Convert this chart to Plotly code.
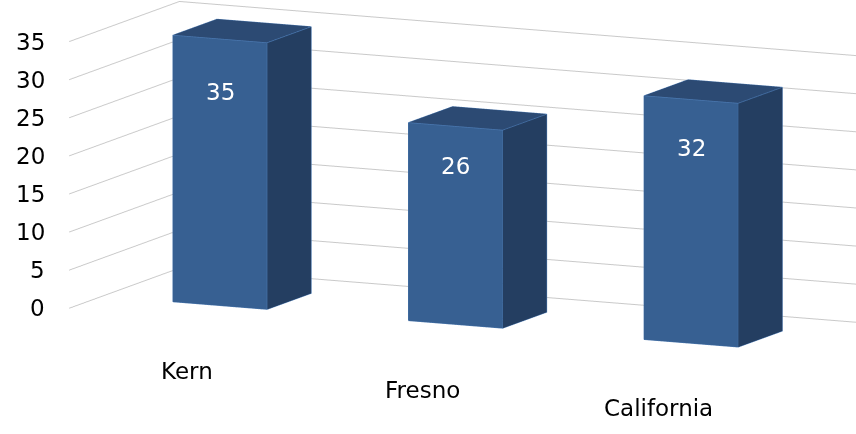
import numpy as np
import plotly.graph_objects as go

# ---- data ----
categories = ["Kern", "Fresno", "California"]
values = [35, 26, 32]
tick_values = [0, 5, 10, 15, 20, 25, 30, 35]

# ---- style ----
FRONT = "#376092"
SIDE = "#243e61"
TOP = "#2c4a73"
EDGE = "#4a78b0"
GRID = "#c9c9c9"
FONT = "DejaVu Sans"
FS = 23

BAR_HALF = 0.2          # half bar width in category units
DEPTH_FRONT, DEPTH_BACK = 0.3, 0.7

fig = go.Figure()

faces = [(0, 1, 5), (0, 5, 4),   # front
         (1, 2, 6), (1, 6, 5),   # right
         (4, 5, 6), (4, 6, 7),   # top
         (0, 3, 7), (0, 7, 4),   # left
         (3, 2, 6), (3, 6, 7),   # back
         (0, 1, 2), (0, 2, 3)]   # bottom
face_cols = [FRONT, FRONT, SIDE, SIDE, TOP, TOP,
             FRONT, FRONT, FRONT, FRONT, FRONT, FRONT]
# visible edges: vertex index paths (None = break)
edge_path = [0, 1, 5, 4, 0, None, 4, 7, 6, 5, None, 1, 2, 6]

for idx, (cat, val) in enumerate(zip(categories, values)):
    xa, xb = idx - BAR_HALF, idx + BAR_HALF
    vx = [xa, xb, xb, xa, xa, xb, xb, xa]
    vy = [DEPTH_FRONT, DEPTH_FRONT, DEPTH_BACK, DEPTH_BACK] * 2
    vz = [0, 0, 0, 0, val, val, val, val]
    fig.add_trace(go.Mesh3d(
        x=vx, y=vy, z=vz,
        i=[f[0] for f in faces], j=[f[1] for f in faces], k=[f[2] for f in faces],
        facecolor=face_cols, flatshading=True,
        lighting=dict(ambient=1, diffuse=0, specular=0, roughness=1, fresnel=0),
        hoverinfo="skip", showscale=False, name=cat))
    fig.add_trace(go.Scatter3d(
        x=[vx[p] if p is not None else None for p in edge_path],
        y=[vy[p] if p is not None else None for p in edge_path],
        z=[vz[p] if p is not None else None for p in edge_path],
        mode="lines", line=dict(color=EDGE, width=1.5),
        hoverinfo="skip", showlegend=False))

# ---- camera (orthographic) ----
sin_phi, hx, hy = 0.1706, -0.4246, 0.9054
cos_phi = np.sqrt(1 - sin_phi ** 2)
eye_dir = np.array([-cos_phi * hx, -cos_phi * hy, sin_phi])
r_vec = np.array([hy, -hx, 0.0])
u_vec = np.array([sin_phi * hx, sin_phi * hy, cos_phi])
S = 216.5   # px per world unit
center = -(49.5 / S) * r_vec - (33.8 / S) * u_vec
eye = center + 2.0 * eye_dir

annotations = []
for v in tick_values:
    annotations.append(dict(x=-0.5, y=0, z=v, text=str(v), showarrow=False,
                            xanchor="right", yanchor="middle", xshift=-22,
                            font=dict(family=FONT, size=FS, color="#000000")))
for idx, cat in enumerate(categories):
    annotations.append(dict(x=idx, y=0, z=0, text=cat, showarrow=False,
                            xanchor="center", yanchor="middle", yshift=-53,
                            font=dict(family=FONT, size=FS, color="#000000")))
for idx, val in enumerate(values):
    annotations.append(dict(x=idx, y=DEPTH_FRONT, z=val * 0.8, text=str(val),
                            showarrow=False, xanchor="center", yanchor="middle",
                            font=dict(family=FONT, size=FS, color="#ffffff")))

hidden = dict(visible=False)
fig.update_layout(
    width=856, height=434, margin=dict(l=0, r=0, t=0, b=0),
    paper_bgcolor="white", showlegend=False,
    scene=dict(
        domain=dict(x=[0, 1], y=[0, 1]),
        xaxis=dict(range=[-0.5, 2.5], **hidden),
        yaxis=dict(range=[0, 1], **hidden),
        zaxis=dict(range=[0, 35], tickvals=tick_values, showgrid=True,
                   gridcolor=GRID, gridwidth=2, showticklabels=False,
                   showline=False, zeroline=False, showbackground=False,
                   ticks="", title=dict(text=""), showspikes=False),
        aspectmode="manual",
        aspectratio=dict(x=778.7 / S, y=259.1 / S, z=270 / S),
        camera=dict(eye=dict(x=eye[0], y=eye[1], z=eye[2]),
                    center=dict(x=center[0], y=center[1], z=center[2]),
                    up=dict(x=0, y=0, z=1),
                    projection=dict(type="orthographic")),
        annotations=annotations,
    ),
)
fig.write_html("out.html")
